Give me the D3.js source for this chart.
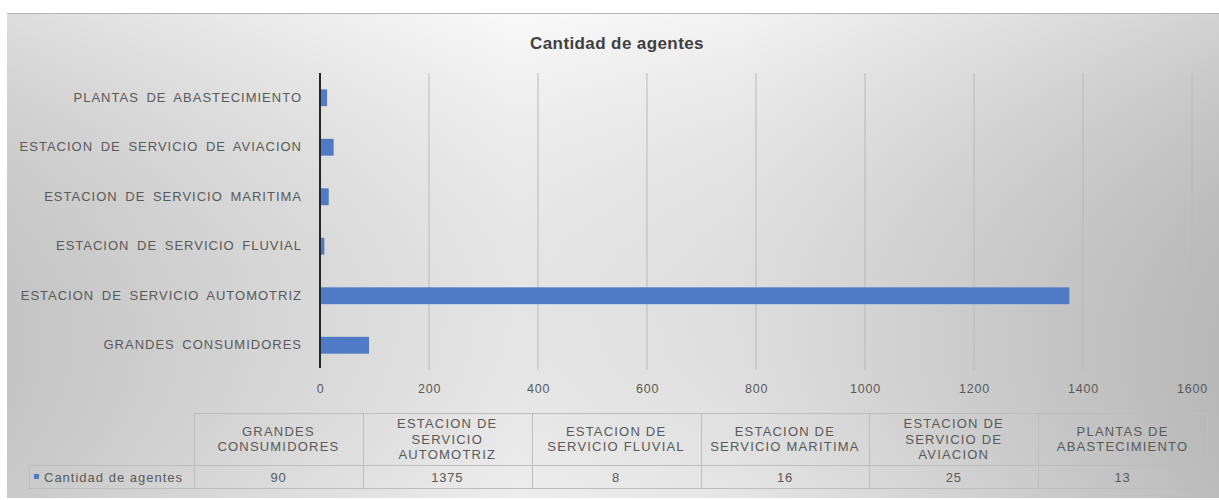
<!DOCTYPE html>
<html>
<head>
<meta charset="utf-8">
<script src="https://cdn.jsdelivr.net/npm/d3@7"></script>
<style>
  body { margin: 0; background: #fff; }
  text { font-family: "Liberation Sans", Arial, sans-serif; }
</style>
</head>
<body>
<div id="chart"></div>
<script>
// categories, bottom to top as in the table
var categories = [
  "GRANDES CONSUMIDORES",
  "ESTACION DE SERVICIO AUTOMOTRIZ",
  "ESTACION DE SERVICIO FLUVIAL",
  "ESTACION DE SERVICIO MARITIMA",
  "ESTACION DE SERVICIO DE AVIACION",
  "PLANTAS DE ABASTECIMIENTO"
];
var values = [90, 1375, 8, 16, 25, 13];
var tickValues = [0, 200, 400, 600, 800, 1000, 1200, 1400, 1600];
// header lines for the data table
var tableHeaders = [
  ["GRANDES", "CONSUMIDORES"],
  ["ESTACION DE", "SERVICIO", "AUTOMOTRIZ"],
  ["ESTACION DE", "SERVICIO FLUVIAL"],
  ["ESTACION DE", "SERVICIO MARITIMA"],
  ["ESTACION DE", "SERVICIO DE", "AVIACION"],
  ["PLANTAS DE", "ABASTECIMIENTO"]
];
var seriesName = "Cantidad de agentes";

var W = 1219, H = 500;
var svg = d3.select("#chart").append("svg")
    .attr("width", W)
    .attr("height", H);

var defs = svg.append("defs");
var grad = defs.append("linearGradient").attr("id", "bg")
    .attr("x1", "0%").attr("x2", "100%").attr("y1", "0%").attr("y2", "0%");
grad.append("stop").attr("offset", "0%").attr("stop-color", "#d2d2d2");
grad.append("stop").attr("offset", "42%").attr("stop-color", "#f7f7f7");
grad.append("stop").attr("offset", "60%").attr("stop-color", "#efefef");
grad.append("stop").attr("offset", "100%").attr("stop-color", "#c4c4c4");

var grad2 = defs.append("linearGradient").attr("id", "shade")
    .attr("x1", "0%").attr("x2", "0%").attr("y1", "0%").attr("y2", "100%");
grad2.append("stop").attr("offset", "0%").attr("stop-color", "#fff").attr("stop-opacity", 0.25);
grad2.append("stop").attr("offset", "100%").attr("stop-color", "#000").attr("stop-opacity", 0.04);

svg.append("rect")
    .attr("x", 7).attr("y", 13)
    .attr("width", W - 7).attr("height", 485)
    .attr("fill", "url(#bg)");
svg.append("rect")
    .attr("x", 7).attr("y", 13)
    .attr("width", W - 7).attr("height", 485)
    .attr("fill", "url(#shade)");
svg.append("line")
    .attr("x1", 7).attr("x2", W).attr("y1", 13.5).attr("y2", 13.5)
    .attr("stroke", "#b4b4b4");

// title
svg.append("text")
    .attr("x", 617).attr("y", 49)
    .attr("text-anchor", "middle")
    .style("font-size", "17px")
    .style("font-weight", "bold")
    .style("letter-spacing", "0.4px")
    .style("fill", "#404040")
    .text(seriesName);

var plot = { left: 320, right: 1192, top: 73, bottom: 370 };

var x = d3.scaleLinear()
    .domain([0, 1600])
    .range([plot.left, plot.right]);

var y = d3.scaleBand()
    .domain(categories.slice().reverse())
    .range([plot.top, plot.bottom])
    .paddingInner(0.66)
    .paddingOuter(0.33);

// gridlines
svg.append("g")
    .selectAll("line")
    .data(tickValues.filter(function(d) { return d > 0; }))
  .enter().append("line")
    .attr("x1", function(d) { return x(d); })
    .attr("x2", function(d) { return x(d); })
    .attr("y1", plot.top)
    .attr("y2", plot.bottom)
    .attr("stroke", "#b9b9b9")
    .attr("stroke-width", 1);

// bars
svg.selectAll(".bar")
    .data(categories)
  .enter().append("rect")
    .attr("class", "bar")
    .attr("x", x(0))
    .attr("y", function(d) { return y(d); })
    .attr("width", function(d, i) { return x(values[i]) - x(0); })
    .attr("height", y.bandwidth())
    .attr("fill", "#4e7ac6");

// x axis (labels only)
var xAxis = d3.axisBottom(x)
    .tickValues(tickValues)
    .tickFormat(d3.format("d"))
    .tickSize(0)
    .tickPadding(0);
var gx = svg.append("g")
    .attr("transform", "translate(0," + (plot.bottom + 14) + ")")
    .call(xAxis);
gx.select(".domain").remove();
gx.selectAll("text")
    .style("font-size", "12.5px")
    .style("font-family", "'Liberation Sans', Arial, sans-serif")
    .style("letter-spacing", "0.8px")
    .style("fill", "#595959");

// y axis (category labels + vertical line)
var yAxis = d3.axisLeft(y).tickSize(0).tickPadding(18);
var gy = svg.append("g")
    .attr("transform", "translate(" + plot.left + ",0)")
    .call(yAxis);
gy.select(".domain").remove();
gy.selectAll("text")
    .style("font-size", "13px")
    .style("font-family", "'Liberation Sans', Arial, sans-serif")
    .style("letter-spacing", "1px")
    .style("word-spacing", "3px")
    .style("fill", "#595959");

svg.append("line")
    .attr("x1", x(0)).attr("x2", x(0))
    .attr("y1", plot.top).attr("y2", plot.bottom - 2)
    .attr("stroke", "#262626")
    .attr("stroke-width", 2);

// data table
var table = { left: 194, right: 1207, top: 413, mid: 465, bottom: 488, legendLeft: 29 };
var col = d3.scaleBand()
    .domain(categories)
    .range([table.left, table.right]);
var tStroke = "#bdbdbd";
var tg = svg.append("g");

tg.append("line")
    .attr("x1", table.left).attr("x2", table.right)
    .attr("y1", table.top + 0.5).attr("y2", table.top + 0.5)
    .attr("stroke", tStroke);
tg.append("line")
    .attr("x1", table.legendLeft).attr("x2", table.right)
    .attr("y1", table.mid + 0.5).attr("y2", table.mid + 0.5)
    .attr("stroke", tStroke);
tg.append("line")
    .attr("x1", table.legendLeft).attr("x2", table.right)
    .attr("y1", table.bottom + 0.5).attr("y2", table.bottom + 0.5)
    .attr("stroke", tStroke);
tg.append("line")
    .attr("x1", table.legendLeft + 0.5).attr("x2", table.legendLeft + 0.5)
    .attr("y1", table.mid).attr("y2", table.bottom)
    .attr("stroke", tStroke);

var edges = categories.map(function(c) { return col(c); }).concat([table.right]);
tg.selectAll(".vline")
    .data(edges)
  .enter().append("line")
    .attr("class", "vline")
    .attr("x1", function(d) { return Math.round(d) + 0.5; })
    .attr("x2", function(d) { return Math.round(d) + 0.5; })
    .attr("y1", table.top)
    .attr("y2", table.bottom)
    .attr("stroke", tStroke);

var lineH = 15.5;
tg.selectAll(".hdr")
    .data(categories)
  .enter().append("text")
    .attr("class", "hdr")
    .attr("text-anchor", "middle")
    .style("font-size", "13px")
    .style("letter-spacing", "1.2px")
    .style("fill", "#595959")
    .each(function(d, i) {
      var lines = tableHeaders[i];
      var cx = col(d) + col.bandwidth() / 2;
      var cy = (table.top + table.mid) / 2;
      var y0 = cy - (lines.length - 1) * lineH / 2 + 4.5;
      d3.select(this).selectAll("tspan")
          .data(lines)
        .enter().append("tspan")
          .attr("x", cx)
          .attr("y", function(l, k) { return y0 + k * lineH; })
          .text(function(l) { return l; });
    });

tg.selectAll(".val")
    .data(categories)
  .enter().append("text")
    .attr("class", "val")
    .attr("text-anchor", "middle")
    .attr("x", function(d) { return col(d) + col.bandwidth() / 2; })
    .attr("y", (table.mid + table.bottom) / 2 + 5)
    .style("font-size", "13px")
    .style("letter-spacing", "0.8px")
    .style("fill", "#595959")
    .text(function(d, i) { return values[i]; });

// legend key in the table
tg.append("rect")
    .attr("x", 34).attr("y", table.mid + 9)
    .attr("width", 5).attr("height", 5)
    .attr("fill", "#4e7ac6");
tg.append("text")
    .attr("x", 44).attr("y", (table.mid + table.bottom) / 2 + 5)
    .style("font-size", "13px")
    .style("letter-spacing", "1px")
    .style("fill", "#595959")
    .text(seriesName);
</script>
</body>
</html>
